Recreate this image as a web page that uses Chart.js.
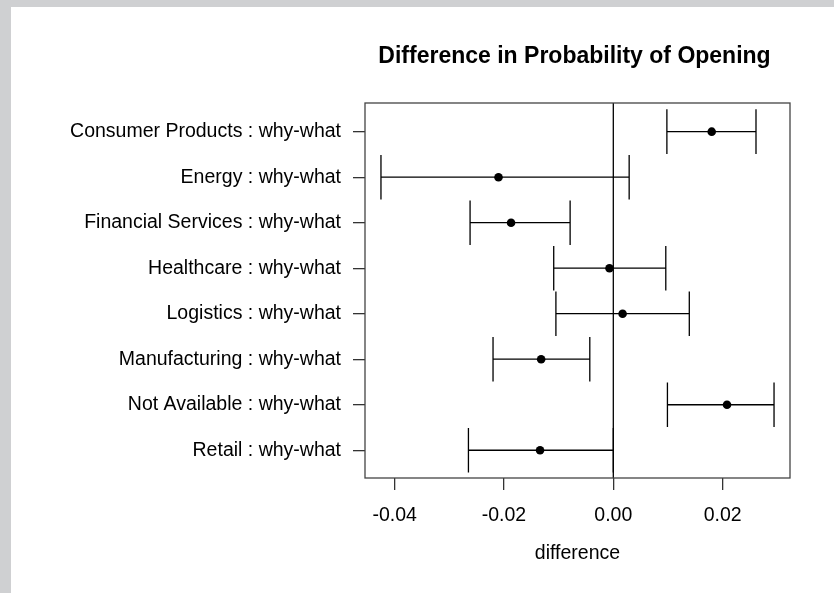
<!DOCTYPE html>
<html>
<head>
<meta charset="utf-8">
<script src="https://cdn.jsdelivr.net/npm/chart.js@4"></script>
<style>
  html, body { margin: 0; padding: 0; background: #cfd0d2; }
  canvas { display: block; }
</style>
</head>
<body>
<canvas id="c" width="834" height="593"></canvas>
<script>
const categories = [
  "Consumer Products : why-what",
  "Energy : why-what",
  "Financial Services : why-what",
  "Healthcare : why-what",
  "Logistics : why-what",
  "Manufacturing : why-what",
  "Not Available : why-what",
  "Retail : why-what"
];
const estimates = [0.0180, -0.0210, -0.0187, -0.0007, 0.0017, -0.0132, 0.0208, -0.0134];
const lowerCI   = [0.0098, -0.0425, -0.0262, -0.0109, -0.0105, -0.0220, 0.0099, -0.0265];
const upperCI   = [0.0261, 0.0029, -0.0079, 0.0096, 0.0139, -0.0043, 0.0294, 0.0000];
const xTicks = [-0.04, -0.02, 0.00, 0.02];
const titleText = "Difference in Probability of Opening";
const xTitle = "difference";

const FONT = "'Liberation Sans', Arial, sans-serif";

const bgPlugin = {
  id: 'bg',
  beforeDraw(chart) {
    const ctx = chart.ctx;
    ctx.save();
    ctx.fillStyle = '#cfd0d2';
    ctx.fillRect(0, 0, chart.width, chart.height);
    ctx.fillStyle = '#ffffff';
    ctx.fillRect(11, 7, chart.width - 11, chart.height - 7);
    ctx.restore();
  }
};

const errPlugin = {
  id: 'errbars',
  beforeDatasetsDraw(chart) {
    const ctx = chart.ctx;
    const xs = chart.scales.x, ys = chart.scales.y;
    const a = chart.chartArea;
    ctx.save();
    ctx.strokeStyle = '#000';
    ctx.lineWidth = 1.3;
    const x0 = xs.getPixelForValue(0);
    ctx.beginPath();
    ctx.moveTo(x0, a.top);
    ctx.lineTo(x0, a.bottom);
    ctx.stroke();
    const capHalf = 0.49;
    categories.forEach((c, i) => {
      const yv = i + 1;
      const py = ys.getPixelForValue(yv);
      const pl = xs.getPixelForValue(lowerCI[i]);
      const ph = xs.getPixelForValue(upperCI[i]);
      const ct = ys.getPixelForValue(yv - capHalf);
      const cb = ys.getPixelForValue(yv + capHalf);
      ctx.beginPath();
      ctx.moveTo(pl, py); ctx.lineTo(ph, py);
      ctx.moveTo(pl, ct); ctx.lineTo(pl, cb);
      ctx.moveTo(ph, ct); ctx.lineTo(ph, cb);
      ctx.stroke();
    });
    ctx.restore();
  },
  afterDraw(chart) {
    const ctx = chart.ctx;
    const a = chart.chartArea;
    ctx.save();
    ctx.strokeStyle = '#444';
    ctx.lineWidth = 1.3;
    ctx.strokeRect(a.left, a.top, a.right - a.left, a.bottom - a.top);
    ctx.fillStyle = '#000';
    ctx.font = "bold 23px " + FONT;
    ctx.textAlign = 'center';
    ctx.textBaseline = 'alphabetic';
    ctx.fillText(titleText, (a.left + a.right) / 2 - 3, 63);
    ctx.restore();
  }
};

new Chart(document.getElementById('c'), {
  type: 'scatter',
  data: {
    datasets: [{
      data: estimates.map((v, i) => ({ x: v, y: i + 1 })),
      backgroundColor: '#000',
      borderWidth: 0,
      pointRadius: 4.3,
      pointHoverRadius: 4.3
    }]
  },
  options: {
    responsive: false,
    animation: false,
    layout: { padding: { top: 103, right: 44, left: 0, bottom: 0 } },
    plugins: { legend: { display: false }, tooltip: { enabled: false }, title: { display: false } },
    scales: {
      x: {
        type: 'linear',
        min: -0.04542,
        max: 0.03232,
        afterBuildTicks(s) { s.ticks = xTicks.map(v => ({ value: v })); },
        afterFit(s) { s.height = 115; },
        border: { display: false },
        grid: { drawOnChartArea: false, drawTicks: true, tickLength: 12, color: '#333', lineWidth: 1.3 },
        ticks: {
          color: '#000',
          font: { family: FONT, size: 19.5 },
          padding: 14,
          maxRotation: 0,
          callback: v => v.toFixed(2)
        },
        title: { display: true, text: xTitle, color: '#000', font: { family: FONT, size: 19.5 }, padding: { top: 4, bottom: 28 } }
      },
      y: {
        type: 'linear',
        reverse: true,
        min: 0.37,
        max: 8.61,
        afterBuildTicks(s) { s.ticks = categories.map((c, i) => ({ value: i + 1 })); },
        afterFit(s) { s.width = 365; },
        border: { display: false },
        grid: { drawOnChartArea: false, drawTicks: true, tickLength: 12, color: '#333', lineWidth: 1.3 },
        ticks: {
          color: '#000',
          font: { family: FONT, size: 19.5 },
          padding: 12,
          callback: v => categories[Math.round(v) - 1]
        }
      }
    }
  },
  plugins: [bgPlugin, errPlugin]
});
</script>
</body>
</html>
